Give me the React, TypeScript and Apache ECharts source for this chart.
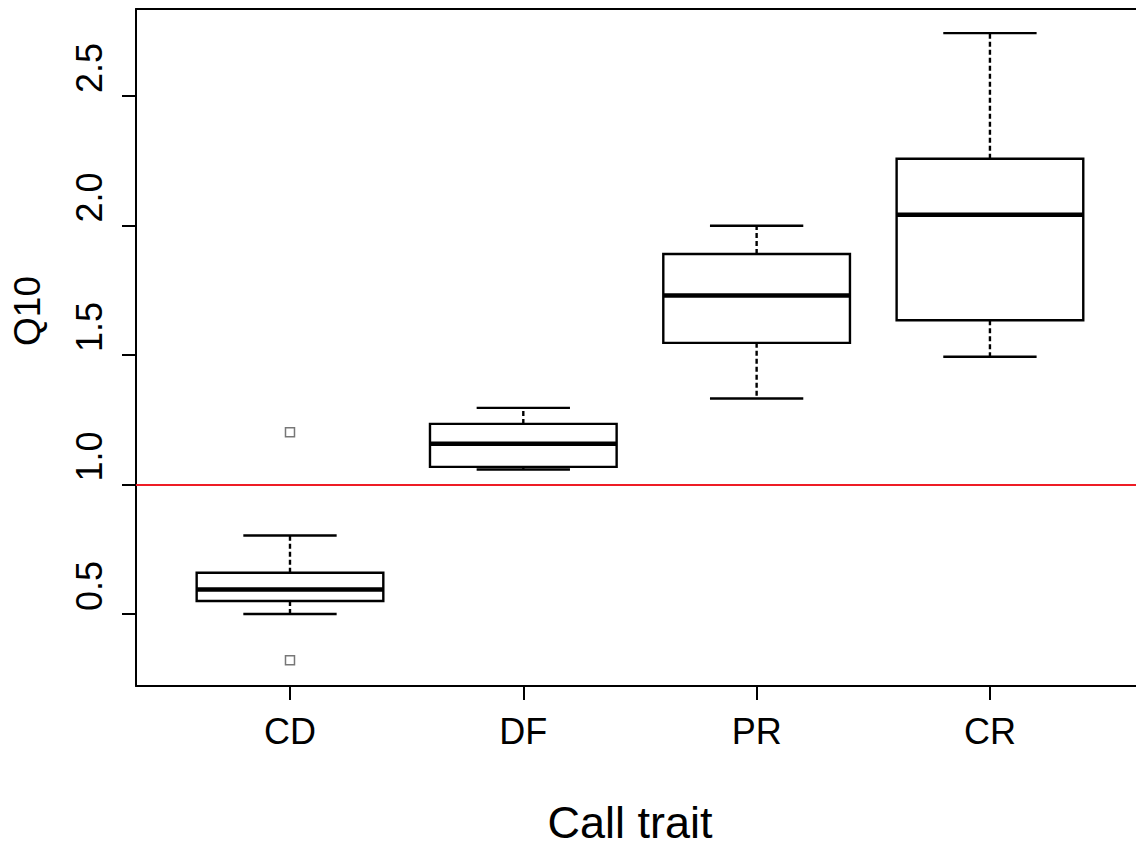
import React, { useEffect, useRef } from "react";
import * as echarts from "echarts";

const CATEGORIES = ["CD", "DF", "PR", "CR"];
const CATEGORY_POSITIONS = [1, 2, 3, 4];
const LOW_WHISKER = [0.5, 1.058, 1.332, 1.493];
const Q1 = [0.55, 1.068, 1.547, 1.634];
const MEDIAN = [0.595, 1.157, 1.73, 2.042];
const Q3 = [0.659, 1.234, 1.89, 2.258];
const HIGH_WHISKER = [0.803, 1.296, 1.999, 2.743];
const OUTLIER_CATEGORY = ["CD", "CD"];
const OUTLIER_VALUES = [1.202, 0.321];
const Y_TICKS = [0.5, 1.0, 1.5, 2.0, 2.5];
const REFERENCE_VALUE = 1.0;
const X_TITLE = "Call trait";
const Y_TITLE = "Q10";

const BOX_WIDTH = 0.8;
const FONT = "'Liberation Sans', Arial, Helvetica, sans-serif";

export default function App() {
  const ref = useRef<HTMLDivElement>(null);

  useEffect(() => {
    if (!ref.current) return;
    const chart = echarts.init(ref.current, undefined, { renderer: "svg" });

    const boxData = CATEGORIES.map((_, i) => [
      CATEGORY_POSITIONS[i],
      LOW_WHISKER[i],
      Q1[i],
      MEDIAN[i],
      Q3[i],
      HIGH_WHISKER[i],
    ]);
    const outlierData = OUTLIER_VALUES.map((v, i) => [
      CATEGORY_POSITIONS[CATEGORIES.indexOf(OUTLIER_CATEGORY[i])],
      v,
    ]);

    const renderItem = (params: any, api: any) => {
      const x = api.value(0);
      const pLo = api.coord([x, api.value(1)]);
      const pQ1 = api.coord([x, api.value(2)]);
      const pMed = api.coord([x, api.value(3)]);
      const pQ3 = api.coord([x, api.value(4)]);
      const pHi = api.coord([x, api.value(5)]);
      const half = api.size([BOX_WIDTH, 0])[0] / 2;
      const staple = half / 2;
      const cx = pLo[0];
      const solid = { stroke: "#000", lineWidth: 2.4, fill: "none" };
      const dashed = { stroke: "#000", lineWidth: 2.4, lineDash: [5, 3], fill: "none" };
      return {
        type: "group",
        children: [
          { type: "line", shape: { x1: cx, y1: pQ3[1], x2: cx, y2: pHi[1] }, style: dashed },
          { type: "line", shape: { x1: cx, y1: pQ1[1], x2: cx, y2: pLo[1] }, style: dashed },
          { type: "line", shape: { x1: cx - staple, y1: pHi[1], x2: cx + staple, y2: pHi[1] }, style: solid },
          { type: "line", shape: { x1: cx - staple, y1: pLo[1], x2: cx + staple, y2: pLo[1] }, style: solid },
          {
            type: "rect",
            shape: { x: cx - half, y: pQ3[1], width: half * 2, height: pQ1[1] - pQ3[1] },
            style: { stroke: "#000", lineWidth: 2.4, fill: "#fff" },
          },
          { type: "line", shape: { x1: cx - half, y1: pMed[1], x2: cx + half, y2: pMed[1] }, style: { stroke: "#000", lineWidth: 4.5 } },
        ],
      };
    };

    chart.setOption({
      animation: false,
      backgroundColor: "#fff",
      textStyle: { fontFamily: FONT, color: "#000" },
      grid: { left: 136, top: 9, width: 1000, height: 677, containLabel: false, outerBoundsMode: "none" },
      xAxis: [
        {
          type: "value",
          position: "bottom",
          min: 0.34,
          max: 4.626,
          name: X_TITLE,
          nameLocation: "middle",
          nameGap: 115,
          nameTextStyle: { fontSize: 45, lineHeight: 42, color: "#000", fontFamily: FONT, padding: [0, 12, 0, 0] },
          axisLine: { show: true, onZero: false, lineStyle: { color: "#000", width: 2 } },
          axisTick: {
            show: true,
            customValues: CATEGORY_POSITIONS,
            length: 14,
            lineStyle: { color: "#000", width: 2 },
          },
          axisLabel: {
            show: true,
            customValues: CATEGORY_POSITIONS,
            formatter: (v: number) => CATEGORIES[Math.round(v) - 1] ?? "",
            fontSize: 36,
            color: "#000",
            fontFamily: FONT,
            margin: 27,
          },
          splitLine: { show: false },
        },
        {
          type: "value",
          position: "top",
          min: 0.34,
          max: 4.626,
          axisLine: { show: true, onZero: false, lineStyle: { color: "#000", width: 2 } },
          axisTick: { show: false },
          axisLabel: { show: false },
          splitLine: { show: false },
        },
      ],
      yAxis: {
        type: "value",
        min: 0.222,
        max: 2.836,
        name: Y_TITLE,
        nameLocation: "middle",
        nameRotate: 90,
        nameGap: 90,
        nameTextStyle: { fontSize: 37, color: "#000", fontFamily: FONT, padding: [0, 0, 0, 73] },
        axisLine: { show: true, onZero: false, lineStyle: { color: "#000", width: 2 } },
        axisTick: {
          show: true,
          customValues: Y_TICKS,
          length: 14,
          lineStyle: { color: "#000", width: 2 },
        },
        axisLabel: {
          show: true,
          customValues: Y_TICKS,
          rotate: 90,
          formatter: (v: number) => v.toFixed(1),
          fontSize: 36,
          color: "#000",
          fontFamily: FONT,
          margin: 29,
          padding: [0, 0, 0, 56],
        },
        splitLine: { show: false },
      },
      series: [
        {
          type: "custom",
          renderItem,
          data: boxData,
          encode: { x: 0, y: [1, 2, 3, 4, 5] },
          z: 3,
          markLine: {
            silent: true,
            symbol: "none",
            label: { show: false },
            lineStyle: { color: "#ee1c25", width: 2, type: "solid" },
            data: [{ yAxis: REFERENCE_VALUE }],
          },
        },
        {
          type: "scatter",
          data: outlierData,
          symbol: "rect",
          symbolSize: 9,
          itemStyle: { color: "#fff", borderColor: "#555", borderWidth: 1.5 },
          z: 4,
        },
      ],
    });

    return () => chart.dispose();
  }, []);

  return (
    <div
      ref={ref}
      style={{ position: "absolute", left: 0, top: 0, width: 1136, height: 850, background: "#fff" }}
    />
  );
}
